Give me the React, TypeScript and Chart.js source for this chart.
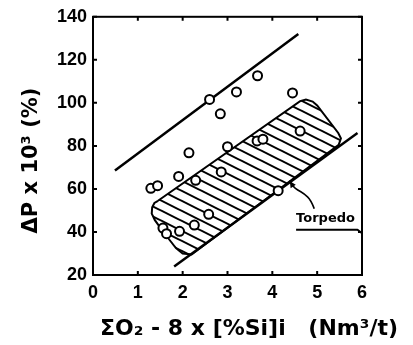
import React, { useEffect, useRef } from 'react';
import { Chart, registerables } from 'chart.js';

Chart.register(...registerables);

// ---- data ----
const xTickValues = [0, 1, 2, 3, 4, 5, 6];
const yTickValues = [20, 40, 60, 80, 100, 120, 140];

const pointX = [1.29, 1.44, 1.56, 1.64, 1.93, 1.91, 2.14, 2.29, 2.26, 2.58, 2.6, 2.84, 2.86, 3.0, 3.2, 3.67, 3.66, 3.79, 4.13, 4.45, 4.62];
const pointY = [60.3, 61.5, 41.8, 39.2, 40.3, 65.8, 76.8, 64.0, 43.2, 48.2, 101.6, 94.9, 67.9, 79.6, 105.1, 112.6, 82.3, 83.1, 59.2, 104.6, 86.9];

const upperLineX = [0.49, 4.58];
const upperLineY = [68.6, 132.0];

const lowerLineX = [1.81, 5.9];
const lowerLineY = [24.0, 86.0];

// Torpedo region outline (closed)
const regionX = [1.45, 4.62, 4.75, 4.9, 5.0, 5.47, 5.53, 5.48, 2.2, 2.0, 1.85, 1.7, 1.5, 1.38, 1.31, 1.32, 1.37, 1.45];
const regionY = [54.5, 100.8, 101.5, 100.6, 98.8, 86.0, 83.5, 80.5, 29.5, 30.0, 32.5, 36.5, 42.0, 45.5, 48.5, 51.5, 53.5, 54.5];

const regionLabel = 'Torpedo';
const xTitleMain = '\u03A3O\u2082 - 8 x [%Si]i';
const xTitleUnit = '(Nm\u00B3/t)';
const yTitle = '\u0394P x 10\u00B3 (%)    ';

// annotation geometry (in axis units)
const labelAnchor = { x: 4.53, y: 44.8 };
const underlineX = [4.53, 5.9, 6.0];
const underlineY = [41.0, 41.0, 39.4];
const leaderX = [4.93, 4.86, 4.71, 4.56, 4.47, 4.39];
const leaderY = [51.1, 54.8, 57.8, 59.6, 61.0, 63.6];

const zip = (xs: number[], ys: number[]) => xs.map((x, i) => ({ x, y: ys[i] }));

function makeHatch(): CanvasPattern | string {
  const tile = document.createElement('canvas');
  tile.width = 20;
  tile.height = 10;
  const c = tile.getContext('2d');
  if (!c) return '#fff';
  c.fillStyle = '#fff';
  c.fillRect(0, 0, 20, 10);
  c.strokeStyle = '#000';
  c.lineWidth = 2;
  for (let k = -2; k <= 2; k++) {
    c.beginPath();
    c.moveTo(-10, -5 + 10 * k);
    c.lineTo(30, 15 + 10 * k);
    c.stroke();
  }
  return c.createPattern(tile, 'repeat') || '#fff';
}

const framePlugin = {
  id: 'frameTicksAnnot',
  afterDraw(chart: any) {
    const { ctx, chartArea: a, scales } = chart;
    const xs = scales.x;
    const ys = scales.y;
    const px = (v: number) => xs.getPixelForValue(v);
    const py = (v: number) => ys.getPixelForValue(v);
    ctx.save();
    ctx.strokeStyle = '#000';
    ctx.lineWidth = 2;
    ctx.strokeRect(a.left, a.top, a.right - a.left, a.bottom - a.top);
    const len = 4;
    ctx.beginPath();
    xs.ticks.forEach((t: any) => {
      const p = px(t.value);
      ctx.moveTo(p, a.bottom);
      ctx.lineTo(p, a.bottom - len);
      ctx.moveTo(p, a.top);
      ctx.lineTo(p, a.top + len);
    });
    ys.ticks.forEach((t: any) => {
      const p = py(t.value);
      ctx.moveTo(a.left, p);
      ctx.lineTo(a.left + len, p);
      ctx.moveTo(a.right, p);
      ctx.lineTo(a.right - len, p);
    });
    ctx.stroke();

    // x axis title (drawn here so it is not squeezed to the axis width)
    ctx.fillStyle = '#000';
    ctx.font = 'bold 22px "DejaVu Sans"';
    ctx.textBaseline = 'alphabetic';
    ctx.textAlign = 'left';
    ctx.fillText(xTitleMain, a.left + 7, a.bottom + 60);
    ctx.textAlign = 'right';
    ctx.fillText(xTitleUnit, a.right + 36, a.bottom + 60);

    // Torpedo label
    ctx.font = 'bold 13px "DejaVu Sans"';
    ctx.textAlign = 'left';
    ctx.fillText(regionLabel, px(labelAnchor.x), py(labelAnchor.y));

    // underline
    ctx.lineWidth = 2;
    ctx.lineJoin = 'round';
    ctx.beginPath();
    underlineX.forEach((v, i) => {
      if (i === 0) ctx.moveTo(px(v), py(underlineY[i]));
      else ctx.lineTo(px(v), py(underlineY[i]));
    });
    ctx.stroke();

    // leader curve
    ctx.lineWidth = 1.6;
    ctx.lineCap = 'round';
    ctx.beginPath();
    const pts = leaderX.map((v, i) => [px(v), py(leaderY[i])]);
    ctx.moveTo(pts[0][0], pts[0][1]);
    for (let i = 1; i < pts.length - 1; i++) {
      const mx = (pts[i][0] + pts[i + 1][0]) / 2;
      const my = (pts[i][1] + pts[i + 1][1]) / 2;
      ctx.quadraticCurveTo(pts[i][0], pts[i][1], mx, my);
    }
    ctx.lineTo(pts[pts.length - 1][0], pts[pts.length - 1][1]);
    ctx.stroke();

    // arrowhead
    const tip = pts[pts.length - 1];
    const prev = pts[pts.length - 2];
    const ang = Math.atan2(tip[1] - prev[1], tip[0] - prev[0]);
    const al = 7;
    const aw = 0.45;
    ctx.beginPath();
    ctx.moveTo(tip[0], tip[1]);
    ctx.lineTo(tip[0] - al * Math.cos(ang - aw), tip[1] - al * Math.sin(ang - aw));
    ctx.lineTo(tip[0] - al * Math.cos(ang + aw), tip[1] - al * Math.sin(ang + aw));
    ctx.closePath();
    ctx.fill();
    ctx.restore();
  },
};

export default function App() {
  const ref = useRef<HTMLCanvasElement | null>(null);

  useEffect(() => {
    if (!ref.current) return;
    const tickFont = { family: '"Liberation Sans", Arial, sans-serif', size: 18, weight: 'bold' as const };
    const chart = new Chart(ref.current, {
      type: 'scatter',
      data: {
        datasets: [
          {
            label: 'data',
            data: zip(pointX, pointY),
            pointRadius: 4.5,
            pointBorderWidth: 2,
            pointBackgroundColor: '#fff',
            pointBorderColor: '#000',
            showLine: false,
            order: 0,
          },
          {
            label: 'upper',
            data: zip(upperLineX, upperLineY),
            showLine: true,
            pointRadius: 0,
            borderColor: '#000',
            borderWidth: 2.5,
            order: 1,
          },
          {
            label: 'lower',
            data: zip(lowerLineX, lowerLineY),
            showLine: true,
            pointRadius: 0,
            borderColor: '#000',
            borderWidth: 2.5,
            order: 1,
          },
          {
            label: 'torpedo',
            data: zip(regionX, regionY),
            showLine: true,
            pointRadius: 0,
            borderColor: '#000',
            borderWidth: 2,
            backgroundColor: makeHatch() as any,
            fill: 'shape',
            tension: 0,
            order: 2,
          } as any,
        ],
      },
      options: {
        responsive: false,
        animation: false,
        events: [],
        layout: { padding: { left: 0, top: 13, right: 51, bottom: 0 } },
        plugins: { legend: { display: false }, tooltip: { enabled: false } },
        scales: {
          x: {
            type: 'linear',
            min: 0,
            max: 6,
            afterBuildTicks: (s: any) => {
              s.ticks = xTickValues.map((v) => ({ value: v }));
            },
            afterFit: (s: any) => {
              s.height = 70;
            },
            grid: { display: false, drawTicks: false },
            border: { display: false },
            ticks: { font: tickFont, color: '#000', padding: 7, maxRotation: 0 },
            title: { display: false },
          },
          y: {
            type: 'linear',
            min: 20,
            max: 140,
            afterBuildTicks: (s: any) => {
              s.ticks = yTickValues.map((v) => ({ value: v }));
            },
            afterFit: (s: any) => {
              s.width = 93;
            },
            grid: { display: false, drawTicks: false },
            border: { display: false },
            ticks: { font: tickFont, color: '#000', padding: 6 },
            title: {
              display: true,
              text: yTitle,
              color: '#000',
              font: { family: '"DejaVu Sans", sans-serif', size: 21, weight: 'bold' },
              padding: { top: 19, bottom: 0 },
            },
          },
        },
      },
      plugins: [framePlugin],
    });
    return () => chart.destroy();
  }, []);

  return (
    <div style={{ position: 'absolute', left: 0, top: 0, width: 413, height: 345, background: '#fff' }}>
      <canvas ref={ref} width={413} height={345} style={{ display: 'block' }} />
    </div>
  );
}
